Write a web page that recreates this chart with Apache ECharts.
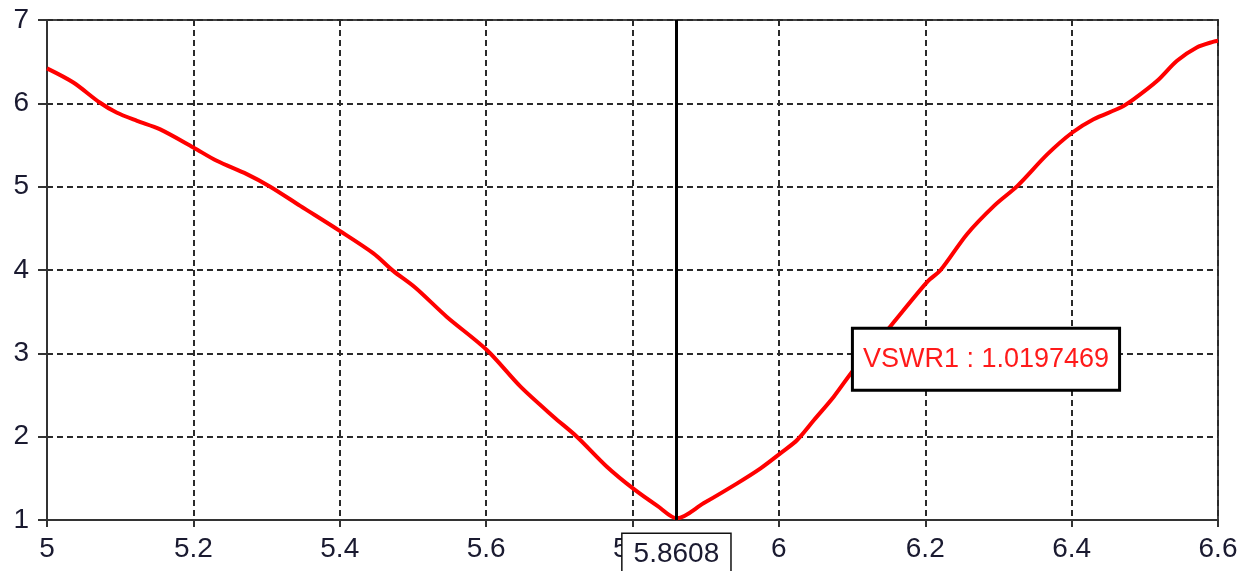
<!DOCTYPE html>
<html>
<head>
<meta charset="utf-8">
<title>VSWR</title>
<script src="https://cdn.jsdelivr.net/npm/echarts@6/dist/echarts.min.js"></script>
<style>
  html, body { margin: 0; padding: 0; background: #fff; }
  #vswr { width: 1247px; height: 571px; }
</style>
</head>
<body>
<div id="vswr"></div>
<script>
// frequency (GHz)
var freq = [5.0, 5.036, 5.072, 5.095, 5.123, 5.154, 5.2, 5.232, 5.273, 5.305, 5.346, 5.4,
    5.446, 5.473, 5.503, 5.546, 5.601, 5.647, 5.692, 5.724, 5.765, 5.802, 5.834, 5.8608,
    5.897, 5.943, 5.975, 6.002, 6.025, 6.048, 6.075, 6.102, 6.152, 6.203, 6.221, 6.257,
    6.294, 6.326, 6.367, 6.401, 6.43, 6.467, 6.485, 6.517, 6.544, 6.571, 6.594, 6.6];

// VSWR values
var vswr = [6.42, 6.25, 6.01, 5.89, 5.79, 5.69, 5.47, 5.31, 5.15, 5.0, 4.77, 4.47,
    4.2, 3.99, 3.79, 3.44, 3.04, 2.60, 2.24, 2.0, 1.64, 1.37, 1.17, 1.0197,
    1.2, 1.44, 1.62, 1.80, 1.96, 2.20, 2.48, 2.80, 3.32, 3.86, 4.0, 4.43,
    4.77, 5.01, 5.39, 5.65, 5.81, 5.95, 6.05, 6.27, 6.51, 6.67, 6.74, 6.75];

// marker
var markerFreq = 5.8608;
var markerText = 'VSWR1 : 1.0197469';
var markerBoxAt = [6.283, 2.93];

var points = freq.map(function (f, i) { return [f, vswr[i]]; });

var font = '"Liberation Sans", Arial, sans-serif';
var labelColor = '#1a1a30';

var vswrChart = echarts.init(document.getElementById('vswr'));

vswrChart.setOption({
    backgroundColor: '#fff',
    animation: false,
    grid: {
        left: 47, right: 29, top: 20, bottom: 51,
        show: true, borderColor: '#444', borderWidth: 2
    },
    xAxis: {
        type: 'value', min: 5, max: 6.6, interval: 0.2,
        axisLine: { lineStyle: { color: '#333', width: 2 } },
        axisTick: { length: 7, lineStyle: { color: '#333', width: 2 } },
        axisLabel: { fontFamily: font, fontSize: 28, color: labelColor, margin: 15 },
        splitLine: { lineStyle: { color: '#2a2a2a', width: 2, type: [6, 4] } }
    },
    yAxis: {
        type: 'value', min: 1, max: 7, interval: 1,
        axisLine: { show: true, lineStyle: { color: '#333', width: 2 } },
        axisTick: { show: true, length: 9, lineStyle: { color: '#333', width: 2 } },
        axisLabel: { fontFamily: font, fontSize: 28, color: labelColor, margin: 18 },
        splitLine: { lineStyle: { color: '#2a2a2a', width: 2, type: [6, 4] } }
    },
    series: [{
        type: 'line',
        data: points,
        showSymbol: false,
        smooth: 0.3,
        lineStyle: { color: '#ff0000', width: 4 },
        // vertical marker line + frequency readout
        markLine: {
            silent: true,
            symbol: 'none',
            lineStyle: { color: '#000', width: 3, type: 'solid' },
            label: {
                show: true, position: 'start', distance: 14,
                formatter: String(markerFreq),
                fontFamily: font, fontSize: 28, color: labelColor,
                backgroundColor: '#fff', borderColor: '#111', borderWidth: 1.5,
                padding: [6, 11, 12, 11]
            },
            data: [{ xAxis: markerFreq }]
        },
        // value readout box
        markPoint: {
            silent: true,
            symbol: 'circle',
            symbolSize: 1,
            itemStyle: { color: 'rgba(0,0,0,0)' },
            label: {
                show: true, position: 'inside',
                formatter: markerText,
                fontFamily: font, fontSize: 27, color: '#ff1a1a',
                backgroundColor: '#fff', borderColor: '#000', borderWidth: 3,
                padding: [16, 9, 16, 9]
            },
            data: [{ coord: markerBoxAt }]
        }
    }]
});
</script>
</body>
</html>
